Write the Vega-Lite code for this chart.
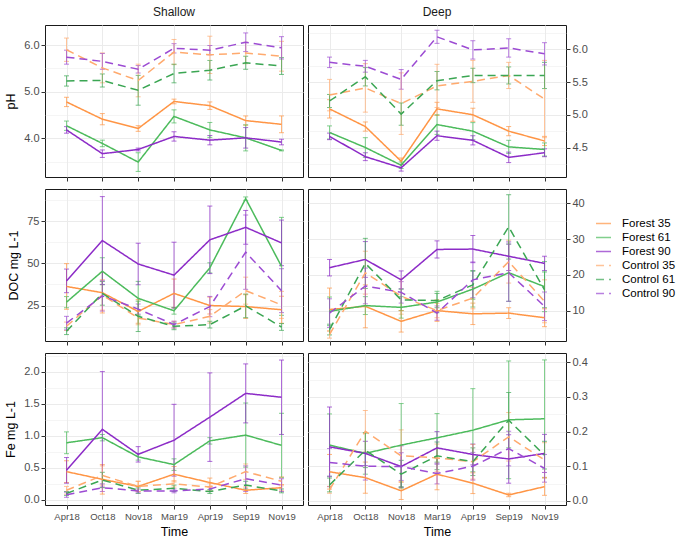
{
"$schema":"https://vega.github.io/schema/vega-lite/v6.json",
"padding":{"left":4,"top":5,"right":0,"bottom":0},
"background":"white",
"datasets":{
"pHS":[
{"s":"Forest 35","t":"Apr18","m":4.78,"lo":4.68,"hi":4.88},{"s":"Forest 35","t":"Oct18","m":4.41,"lo":4.29,"hi":4.53},{"s":"Forest 35","t":"Nov18","m":4.21,"lo":4.15,"hi":4.27},{"s":"Forest 35","t":"Mar19","m":4.79,"lo":4.74,"hi":4.84},{"s":"Forest 35","t":"Apr19","m":4.70,"lo":4.62,"hi":4.78},{"s":"Forest 35","t":"Sep19","m":4.38,"lo":4.28,"hi":4.48},{"s":"Forest 35","t":"Nov19","m":4.30,"lo":4.12,"hi":4.48},
{"s":"Forest 61","t":"Apr18","m":4.27,"lo":4.17,"hi":4.37},{"s":"Forest 61","t":"Oct18","m":3.89,"lo":3.82,"hi":3.96},{"s":"Forest 61","t":"Nov18","m":3.49,"lo":3.29,"hi":3.69},{"s":"Forest 61","t":"Mar19","m":4.47,"lo":4.33,"hi":4.61},{"s":"Forest 61","t":"Apr19","m":4.18,"lo":4.02,"hi":4.34},{"s":"Forest 61","t":"Sep19","m":4.01,"lo":3.73,"hi":4.29},{"s":"Forest 61","t":"Nov19","m":3.74,"lo":3.73,"hi":3.75},
{"s":"Forest 90","t":"Apr18","m":4.18,"lo":4.11,"hi":4.25},{"s":"Forest 90","t":"Oct18","m":3.67,"lo":3.59,"hi":3.75},{"s":"Forest 90","t":"Nov18","m":3.76,"lo":3.73,"hi":3.79},{"s":"Forest 90","t":"Mar19","m":4.04,"lo":3.94,"hi":4.14},{"s":"Forest 90","t":"Apr19","m":3.96,"lo":3.86,"hi":4.06},{"s":"Forest 90","t":"Sep19","m":4.01,"lo":3.79,"hi":4.23},{"s":"Forest 90","t":"Nov19","m":3.92,"lo":3.86,"hi":3.98},
{"s":"Control 35","t":"Apr18","m":5.90,"lo":5.65,"hi":6.15},{"s":"Control 35","t":"Oct18","m":5.51,"lo":5.19,"hi":5.83},{"s":"Control 35","t":"Nov18","m":5.24,"lo":4.89,"hi":5.59},{"s":"Control 35","t":"Mar19","m":5.85,"lo":5.58,"hi":6.12},{"s":"Control 35","t":"Apr19","m":5.79,"lo":5.39,"hi":6.19},{"s":"Control 35","t":"Sep19","m":5.83,"lo":5.60,"hi":6.06},{"s":"Control 35","t":"Nov19","m":5.76,"lo":5.44,"hi":6.08},
{"s":"Control 61","t":"Apr18","m":5.23,"lo":5.12,"hi":5.34},{"s":"Control 61","t":"Oct18","m":5.24,"lo":5.10,"hi":5.38},{"s":"Control 61","t":"Nov18","m":5.03,"lo":4.71,"hi":5.35},{"s":"Control 61","t":"Mar19","m":5.39,"lo":5.19,"hi":5.59},{"s":"Control 61","t":"Apr19","m":5.46,"lo":5.25,"hi":5.67},{"s":"Control 61","t":"Sep19","m":5.62,"lo":5.48,"hi":5.76},{"s":"Control 61","t":"Nov19","m":5.55,"lo":5.37,"hi":5.73},
{"s":"Control 90","t":"Apr18","m":5.74,"lo":5.59,"hi":5.89},{"s":"Control 90","t":"Oct18","m":5.65,"lo":5.48,"hi":5.82},{"s":"Control 90","t":"Nov18","m":5.48,"lo":5.40,"hi":5.56},{"s":"Control 90","t":"Mar19","m":5.93,"lo":5.83,"hi":6.03},{"s":"Control 90","t":"Apr19","m":5.89,"lo":5.79,"hi":5.99},{"s":"Control 90","t":"Sep19","m":6.06,"lo":5.86,"hi":6.26},{"s":"Control 90","t":"Nov19","m":5.94,"lo":5.70,"hi":6.18}
],
"pHD":[
{"s":"Forest 35","t":"Apr18","m":5.09,"lo":4.95,"hi":5.23},{"s":"Forest 35","t":"Oct18","m":4.82,"lo":4.75,"hi":4.89},{"s":"Forest 35","t":"Nov18","m":4.29,"lo":4.24,"hi":4.34},{"s":"Forest 35","t":"Mar19","m":5.09,"lo":4.99,"hi":5.19},{"s":"Forest 35","t":"Apr19","m":5.00,"lo":4.90,"hi":5.10},{"s":"Forest 35","t":"Sep19","m":4.75,"lo":4.68,"hi":4.82},{"s":"Forest 35","t":"Nov19","m":4.60,"lo":4.53,"hi":4.67},
{"s":"Forest 61","t":"Apr18","m":4.73,"lo":4.63,"hi":4.83},{"s":"Forest 61","t":"Oct18","m":4.50,"lo":4.35,"hi":4.65},{"s":"Forest 61","t":"Nov18","m":4.23,"lo":4.18,"hi":4.28},{"s":"Forest 61","t":"Mar19","m":4.85,"lo":4.70,"hi":5.00},{"s":"Forest 61","t":"Apr19","m":4.75,"lo":4.62,"hi":4.88},{"s":"Forest 61","t":"Sep19","m":4.51,"lo":4.41,"hi":4.61},{"s":"Forest 61","t":"Nov19","m":4.47,"lo":4.37,"hi":4.57},
{"s":"Forest 90","t":"Apr18","m":4.67,"lo":4.62,"hi":4.72},{"s":"Forest 90","t":"Oct18","m":4.36,"lo":4.30,"hi":4.42},{"s":"Forest 90","t":"Nov18","m":4.19,"lo":4.14,"hi":4.24},{"s":"Forest 90","t":"Mar19","m":4.68,"lo":4.61,"hi":4.75},{"s":"Forest 90","t":"Apr19","m":4.61,"lo":4.54,"hi":4.68},{"s":"Forest 90","t":"Sep19","m":4.35,"lo":4.27,"hi":4.43},{"s":"Forest 90","t":"Nov19","m":4.42,"lo":4.36,"hi":4.48},
{"s":"Control 35","t":"Apr18","m":5.30,"lo":5.06,"hi":5.54},{"s":"Control 35","t":"Oct18","m":5.41,"lo":5.04,"hi":5.78},{"s":"Control 35","t":"Nov18","m":5.17,"lo":4.70,"hi":5.64},{"s":"Control 35","t":"Mar19","m":5.44,"lo":5.11,"hi":5.77},{"s":"Control 35","t":"Apr19","m":5.51,"lo":5.19,"hi":5.83},{"s":"Control 35","t":"Sep19","m":5.60,"lo":5.40,"hi":5.80},{"s":"Control 35","t":"Nov19","m":5.24,"lo":4.65,"hi":5.83},
{"s":"Control 61","t":"Apr18","m":5.21,"lo":5.11,"hi":5.31},{"s":"Control 61","t":"Oct18","m":5.58,"lo":5.44,"hi":5.72},{"s":"Control 61","t":"Nov18","m":5.01,"lo":4.84,"hi":5.18},{"s":"Control 61","t":"Mar19","m":5.52,"lo":5.38,"hi":5.66},{"s":"Control 61","t":"Apr19","m":5.60,"lo":5.49,"hi":5.71},{"s":"Control 61","t":"Sep19","m":5.60,"lo":5.47,"hi":5.73},{"s":"Control 61","t":"Nov19","m":5.60,"lo":5.40,"hi":5.80},
{"s":"Control 90","t":"Apr18","m":5.80,"lo":5.72,"hi":5.88},{"s":"Control 90","t":"Oct18","m":5.74,"lo":5.65,"hi":5.83},{"s":"Control 90","t":"Nov18","m":5.54,"lo":5.39,"hi":5.69},{"s":"Control 90","t":"Mar19","m":6.19,"lo":6.09,"hi":6.29},{"s":"Control 90","t":"Apr19","m":5.99,"lo":5.85,"hi":6.13},{"s":"Control 90","t":"Sep19","m":6.02,"lo":5.88,"hi":6.16},{"s":"Control 90","t":"Nov19","m":5.93,"lo":5.76,"hi":6.10}
],
"DOCS":[
{"s":"Forest 35","t":"Apr18","m":36.3,"lo":22.8,"hi":49.8},{"s":"Forest 35","t":"Oct18","m":32.6,"lo":20.6,"hi":44.6},{"s":"Forest 35","t":"Nov18","m":21.5,"lo":14.5,"hi":28.5},{"s":"Forest 35","t":"Mar19","m":32.2,"lo":23.7,"hi":40.7},{"s":"Forest 35","t":"Apr19","m":25.0,"lo":20.0,"hi":30.0},{"s":"Forest 35","t":"Sep19","m":24.4,"lo":17.4,"hi":31.4},{"s":"Forest 35","t":"Nov19","m":22.5,"lo":14.5,"hi":30.5},
{"s":"Forest 61","t":"Apr18","m":27.0,"lo":23.7,"hi":30.3},{"s":"Forest 61","t":"Oct18","m":45.3,"lo":37.3,"hi":53.3},{"s":"Forest 61","t":"Nov18","m":29.3,"lo":19.3,"hi":39.3},{"s":"Forest 61","t":"Mar19","m":21.9,"lo":19.9,"hi":23.9},{"s":"Forest 61","t":"Apr19","m":47.3,"lo":44.3,"hi":50.3},{"s":"Forest 61","t":"Sep19","m":88.3,"lo":87.3,"hi":89.3},{"s":"Forest 61","t":"Nov19","m":48.2,"lo":19.2,"hi":77.2},
{"s":"Forest 90","t":"Apr18","m":39.6,"lo":32.6,"hi":46.6},{"s":"Forest 90","t":"Oct18","m":63.5,"lo":37.5,"hi":89.5},{"s":"Forest 90","t":"Nov18","m":49.6,"lo":37.3,"hi":61.9},{"s":"Forest 90","t":"Mar19","m":43.0,"lo":23.5,"hi":62.5},{"s":"Forest 90","t":"Apr19","m":63.9,"lo":43.9,"hi":83.9},{"s":"Forest 90","t":"Sep19","m":71.3,"lo":61.3,"hi":81.3},{"s":"Forest 90","t":"Nov19","m":62.1,"lo":48.6,"hi":75.6},
{"s":"Control 35","t":"Apr18","m":12.7,"lo":10.2,"hi":15.2},{"s":"Control 35","t":"Oct18","m":31.3,"lo":22.3,"hi":40.3},{"s":"Control 35","t":"Nov18","m":17.6,"lo":13.6,"hi":21.6},{"s":"Control 35","t":"Mar19","m":13.7,"lo":11.7,"hi":15.7},{"s":"Control 35","t":"Apr19","m":18.6,"lo":14.6,"hi":22.6},{"s":"Control 35","t":"Sep19","m":33.8,"lo":25.8,"hi":41.8},{"s":"Control 35","t":"Nov19","m":25.4,"lo":17.4,"hi":33.4},
{"s":"Control 61","t":"Apr18","m":9.8,"lo":7.8,"hi":11.8},{"s":"Control 61","t":"Oct18","m":32.2,"lo":25.2,"hi":39.2},{"s":"Control 61","t":"Nov18","m":18.6,"lo":9.6,"hi":27.6},{"s":"Control 61","t":"Mar19","m":12.7,"lo":10.7,"hi":14.7},{"s":"Control 61","t":"Apr19","m":13.7,"lo":11.7,"hi":15.7},{"s":"Control 61","t":"Sep19","m":24.8,"lo":17.8,"hi":31.8},{"s":"Control 61","t":"Nov19","m":12.3,"lo":10.3,"hi":14.3},
{"s":"Control 90","t":"Apr18","m":14.6,"lo":10.6,"hi":18.6},{"s":"Control 90","t":"Oct18","m":30.7,"lo":21.7,"hi":39.7},{"s":"Control 90","t":"Nov18","m":22.9,"lo":19.9,"hi":25.9},{"s":"Control 90","t":"Mar19","m":13.7,"lo":11.7,"hi":15.7},{"s":"Control 90","t":"Apr19","m":24.4,"lo":18.4,"hi":30.4},{"s":"Control 90","t":"Sep19","m":56.6,"lo":34.6,"hi":78.6},{"s":"Control 90","t":"Nov19","m":33.8,"lo":20.8,"hi":46.8}
],
"DOCD":[
{"s":"Forest 35","t":"Apr18","m":10.3,"lo":4.3,"hi":16.3},{"s":"Forest 35","t":"Oct18","m":11.2,"lo":5.2,"hi":17.2},{"s":"Forest 35","t":"Nov18","m":7.0,"lo":4.0,"hi":10.0},{"s":"Forest 35","t":"Mar19","m":10.0,"lo":7.0,"hi":13.0},{"s":"Forest 35","t":"Apr19","m":9.1,"lo":6.1,"hi":12.1},{"s":"Forest 35","t":"Sep19","m":9.3,"lo":7.8,"hi":10.8},{"s":"Forest 35","t":"Nov19","m":8.0,"lo":5.5,"hi":10.5},
{"s":"Forest 61","t":"Apr18","m":9.8,"lo":5.8,"hi":13.8},{"s":"Forest 61","t":"Oct18","m":11.4,"lo":8.9,"hi":13.9},{"s":"Forest 61","t":"Nov18","m":10.9,"lo":7.9,"hi":13.9},{"s":"Forest 61","t":"Mar19","m":12.4,"lo":9.4,"hi":15.4},{"s":"Forest 61","t":"Apr19","m":16.0,"lo":11.0,"hi":21.0},{"s":"Forest 61","t":"Sep19","m":20.6,"lo":12.6,"hi":28.6},{"s":"Forest 61","t":"Nov19","m":16.7,"lo":9.7,"hi":23.7},
{"s":"Forest 90","t":"Apr18","m":22.0,"lo":19.7,"hi":24.3},{"s":"Forest 90","t":"Oct18","m":24.3,"lo":19.3,"hi":29.3},{"s":"Forest 90","t":"Nov18","m":18.6,"lo":16.1,"hi":21.1},{"s":"Forest 90","t":"Mar19","m":27.1,"lo":24.7,"hi":29.5},{"s":"Forest 90","t":"Apr19","m":27.2,"lo":23.4,"hi":31.0},{"s":"Forest 90","t":"Sep19","m":25.2,"lo":21.2,"hi":29.2},{"s":"Forest 90","t":"Nov19","m":23.2,"lo":21.2,"hi":25.2},
{"s":"Control 35","t":"Apr18","m":3.3,"lo":2.3,"hi":4.3},{"s":"Control 35","t":"Oct18","m":20.6,"lo":14.6,"hi":26.6},{"s":"Control 35","t":"Nov18","m":14.0,"lo":9.0,"hi":19.0},{"s":"Control 35","t":"Mar19","m":10.0,"lo":8.0,"hi":12.0},{"s":"Control 35","t":"Apr19","m":13.5,"lo":10.5,"hi":16.5},{"s":"Control 35","t":"Sep19","m":23.7,"lo":17.7,"hi":29.7},{"s":"Control 35","t":"Nov19","m":12.6,"lo":6.6,"hi":18.6},
{"s":"Control 61","t":"Apr18","m":4.7,"lo":3.2,"hi":6.2},{"s":"Control 61","t":"Oct18","m":23.2,"lo":16.2,"hi":30.2},{"s":"Control 61","t":"Nov18","m":13.0,"lo":10.0,"hi":16.0},{"s":"Control 61","t":"Mar19","m":12.8,"lo":10.8,"hi":14.8},{"s":"Control 61","t":"Apr19","m":17.2,"lo":13.2,"hi":21.2},{"s":"Control 61","t":"Sep19","m":33.4,"lo":24.4,"hi":42.4},{"s":"Control 61","t":"Nov19","m":15.8,"lo":10.8,"hi":20.8},
{"s":"Control 90","t":"Apr18","m":9.3,"lo":5.3,"hi":13.3},{"s":"Control 90","t":"Oct18","m":16.9,"lo":11.9,"hi":21.9},{"s":"Control 90","t":"Nov18","m":15.1,"lo":12.1,"hi":18.1},{"s":"Control 90","t":"Mar19","m":9.3,"lo":7.3,"hi":11.3},{"s":"Control 90","t":"Apr19","m":18.6,"lo":13.6,"hi":23.6},{"s":"Control 90","t":"Sep19","m":20.6,"lo":12.6,"hi":28.6},{"s":"Control 90","t":"Nov19","m":11.2,"lo":7.2,"hi":15.2}
],
"FeS":[
{"s":"Forest 35","t":"Apr18","m":0.44,"lo":0.27,"hi":0.61},{"s":"Forest 35","t":"Oct18","m":0.32,"lo":0.09,"hi":0.55},{"s":"Forest 35","t":"Nov18","m":0.21,"lo":0.13,"hi":0.29},{"s":"Forest 35","t":"Mar19","m":0.40,"lo":0.28,"hi":0.52},{"s":"Forest 35","t":"Apr19","m":0.27,"lo":0.20,"hi":0.34},{"s":"Forest 35","t":"Sep19","m":0.15,"lo":0.10,"hi":0.20},{"s":"Forest 35","t":"Nov19","m":0.19,"lo":0.14,"hi":0.24},
{"s":"Forest 61","t":"Apr18","m":0.89,"lo":0.72,"hi":1.06},{"s":"Forest 61","t":"Oct18","m":0.97,"lo":0.92,"hi":1.02},{"s":"Forest 61","t":"Nov18","m":0.67,"lo":0.62,"hi":0.72},{"s":"Forest 61","t":"Mar19","m":0.55,"lo":0.46,"hi":0.64},{"s":"Forest 61","t":"Apr19","m":0.92,"lo":0.87,"hi":0.97},{"s":"Forest 61","t":"Sep19","m":1.01,"lo":0.51,"hi":1.51},{"s":"Forest 61","t":"Nov19","m":0.85,"lo":0.35,"hi":1.35},
{"s":"Forest 90","t":"Apr18","m":0.46,"lo":0.26,"hi":0.66},{"s":"Forest 90","t":"Oct18","m":1.10,"lo":0.20,"hi":2.00},{"s":"Forest 90","t":"Nov18","m":0.71,"lo":0.59,"hi":0.83},{"s":"Forest 90","t":"Mar19","m":0.93,"lo":0.37,"hi":1.49},{"s":"Forest 90","t":"Apr19","m":1.29,"lo":0.60,"hi":1.98},{"s":"Forest 90","t":"Sep19","m":1.66,"lo":1.20,"hi":2.12},{"s":"Forest 90","t":"Nov19","m":1.60,"lo":1.02,"hi":2.18},
{"s":"Control 35","t":"Apr18","m":0.15,"lo":0.09,"hi":0.21},{"s":"Control 35","t":"Oct18","m":0.38,"lo":0.23,"hi":0.53},{"s":"Control 35","t":"Nov18","m":0.21,"lo":0.13,"hi":0.29},{"s":"Control 35","t":"Mar19","m":0.25,"lo":0.20,"hi":0.30},{"s":"Control 35","t":"Apr19","m":0.20,"lo":0.14,"hi":0.26},{"s":"Control 35","t":"Sep19","m":0.44,"lo":0.32,"hi":0.56},{"s":"Control 35","t":"Nov19","m":0.29,"lo":0.22,"hi":0.36},
{"s":"Control 61","t":"Apr18","m":0.10,"lo":0.07,"hi":0.13},{"s":"Control 61","t":"Oct18","m":0.31,"lo":0.19,"hi":0.43},{"s":"Control 61","t":"Nov18","m":0.15,"lo":0.10,"hi":0.20},{"s":"Control 61","t":"Mar19","m":0.18,"lo":0.13,"hi":0.23},{"s":"Control 61","t":"Apr19","m":0.13,"lo":0.10,"hi":0.16},{"s":"Control 61","t":"Sep19","m":0.23,"lo":0.17,"hi":0.29},{"s":"Control 61","t":"Nov19","m":0.14,"lo":0.11,"hi":0.17},
{"s":"Control 90","t":"Apr18","m":0.08,"lo":0.04,"hi":0.12},{"s":"Control 90","t":"Oct18","m":0.19,"lo":0.13,"hi":0.25},{"s":"Control 90","t":"Nov18","m":0.14,"lo":0.11,"hi":0.17},{"s":"Control 90","t":"Mar19","m":0.14,"lo":0.11,"hi":0.17},{"s":"Control 90","t":"Apr19","m":0.17,"lo":0.13,"hi":0.21},{"s":"Control 90","t":"Sep19","m":0.33,"lo":0.13,"hi":0.53},{"s":"Control 90","t":"Nov19","m":0.23,"lo":0.13,"hi":0.33}
],
"FeD":[
{"s":"Forest 35","t":"Apr18","m":0.084,"lo":0.034,"hi":0.134},{"s":"Forest 35","t":"Oct18","m":0.067,"lo":0.022,"hi":0.112},{"s":"Forest 35","t":"Nov18","m":0.029,"lo":0.004,"hi":0.054},{"s":"Forest 35","t":"Mar19","m":0.077,"lo":0.032,"hi":0.122},{"s":"Forest 35","t":"Apr19","m":0.051,"lo":0.021,"hi":0.081},{"s":"Forest 35","t":"Sep19","m":0.017,"lo":0.012,"hi":0.022},{"s":"Forest 35","t":"Nov19","m":0.041,"lo":0.016,"hi":0.066},
{"s":"Forest 61","t":"Apr18","m":0.161,"lo":0.071,"hi":0.251},{"s":"Forest 61","t":"Oct18","m":0.137,"lo":0.077,"hi":0.197},{"s":"Forest 61","t":"Nov18","m":0.161,"lo":0.041,"hi":0.281},{"s":"Forest 61","t":"Mar19","m":0.182,"lo":0.112,"hi":0.252},{"s":"Forest 61","t":"Apr19","m":0.204,"lo":0.084,"hi":0.324},{"s":"Forest 61","t":"Sep19","m":0.234,"lo":0.064,"hi":0.404},{"s":"Forest 61","t":"Nov19","m":0.237,"lo":0.067,"hi":0.407},
{"s":"Forest 90","t":"Apr18","m":0.156,"lo":0.041,"hi":0.271},{"s":"Forest 90","t":"Oct18","m":0.137,"lo":0.102,"hi":0.172},{"s":"Forest 90","t":"Nov18","m":0.099,"lo":0.039,"hi":0.159},{"s":"Forest 90","t":"Mar19","m":0.153,"lo":0.106,"hi":0.200},{"s":"Forest 90","t":"Apr19","m":0.134,"lo":0.104,"hi":0.164},{"s":"Forest 90","t":"Sep19","m":0.121,"lo":0.051,"hi":0.191},{"s":"Forest 90","t":"Nov19","m":0.137,"lo":0.082,"hi":0.192},
{"s":"Control 35","t":"Apr18","m":0.032,"lo":0.022,"hi":0.042},{"s":"Control 35","t":"Oct18","m":0.201,"lo":0.141,"hi":0.261},{"s":"Control 35","t":"Nov18","m":0.130,"lo":0.055,"hi":0.205},{"s":"Control 35","t":"Mar19","m":0.124,"lo":0.084,"hi":0.164},{"s":"Control 35","t":"Apr19","m":0.113,"lo":0.063,"hi":0.163},{"s":"Control 35","t":"Sep19","m":0.185,"lo":0.115,"hi":0.255},{"s":"Control 35","t":"Nov19","m":0.118,"lo":0.068,"hi":0.168},
{"s":"Control 61","t":"Apr18","m":0.046,"lo":0.026,"hi":0.066},{"s":"Control 61","t":"Oct18","m":0.146,"lo":0.096,"hi":0.196},{"s":"Control 61","t":"Nov18","m":0.077,"lo":0.037,"hi":0.117},{"s":"Control 61","t":"Mar19","m":0.130,"lo":0.090,"hi":0.170},{"s":"Control 61","t":"Apr19","m":0.113,"lo":0.073,"hi":0.153},{"s":"Control 61","t":"Sep19","m":0.233,"lo":0.153,"hi":0.313},{"s":"Control 61","t":"Nov19","m":0.132,"lo":0.092,"hi":0.172},
{"s":"Control 90","t":"Apr18","m":0.111,"lo":0.071,"hi":0.151},{"s":"Control 90","t":"Oct18","m":0.100,"lo":0.060,"hi":0.140},{"s":"Control 90","t":"Nov18","m":0.099,"lo":0.059,"hi":0.139},{"s":"Control 90","t":"Mar19","m":0.079,"lo":0.049,"hi":0.109},{"s":"Control 90","t":"Apr19","m":0.100,"lo":0.060,"hi":0.140},{"s":"Control 90","t":"Sep19","m":0.151,"lo":0.101,"hi":0.201},{"s":"Control 90","t":"Nov19","m":0.094,"lo":0.054,"hi":0.134}
]
},
"vconcat":[
{"hconcat":[
{"width":258,"height":152,"title":{"text":"Shallow"},"data":{"name":"pHS"},
"encoding":{"x":{"field":"t","type":"ordinal","sort":["Apr18","Oct18","Nov18","Mar19","Apr19","Sep19","Nov19"],"scale":{"type":"point","padding":0.6},"axis":{"labels":false,"title":null}},
"color":{"field":"s","type":"nominal","scale":{"domain":["Forest 35","Forest 61","Forest 90","Control 35","Control 61","Control 90"],"range":["#FF9545","#4CBB5C","#8C2BC7","#FFAA6E","#3BA653","#9C4BD3"]},"legend":{"title":null,"orient":"none","legendX":550,"legendY":190}}},
"layer":[
{"mark":{"type":"errorbar","ticks":{"size":5,"thickness":1},"thickness":1,"opacity":0.7,"clip":true},"encoding":{"y":{"field":"lo","type":"quantitative","scale":{"domain":[3.17,6.43],"nice":false,"zero":false},"axis":{"title":"pH","orient":"left","values":[3.5,4,4.5,5,5.5,6],"format":".1f","labelExpr":"datum.value % 1 == 0 ? datum.label : ''","labelFontSize":{"condition":{"test":"datum.value % 1 == 0","value":11},"value":0},"tickColor":{"condition":{"test":"datum.value % 1 == 0","value":"#333333"},"value":"transparent"},"gridWidth":{"condition":{"test":"datum.value % 1 == 0","value":1},"value":0.5}}},"y2":{"field":"hi"}}},
{"mark":{"type":"line","strokeWidth":1.5,"clip":true},"encoding":{"y":{"field":"m","type":"quantitative","scale":{"domain":[3.17,6.43],"nice":false,"zero":false},"axis":{"title":"pH","orient":"left","values":[3.5,4,4.5,5,5.5,6],"format":".1f","labelExpr":"datum.value % 1 == 0 ? datum.label : ''","labelFontSize":{"condition":{"test":"datum.value % 1 == 0","value":11},"value":0},"tickColor":{"condition":{"test":"datum.value % 1 == 0","value":"#333333"},"value":"transparent"},"gridWidth":{"condition":{"test":"datum.value % 1 == 0","value":1},"value":0.5}}},
"strokeDash":{"field":"s","type":"nominal","scale":{"domain":["Forest 35","Forest 61","Forest 90","Control 35","Control 61","Control 90"],"range":[[1,0],[1,0],[1,0],[8,5],[8,5],[8,5]]},"legend":{"title":null,"orient":"none","legendX":550,"legendY":190}}}}
]},
{"width":258,"height":152,"title":{"text":"Deep"},"data":{"name":"pHD"},
"encoding":{"x":{"field":"t","type":"ordinal","sort":["Apr18","Oct18","Nov18","Mar19","Apr19","Sep19","Nov19"],"scale":{"type":"point","padding":0.6},"axis":{"labels":false,"title":null}},
"color":{"field":"s","type":"nominal","scale":{"domain":["Forest 35","Forest 61","Forest 90","Control 35","Control 61","Control 90"],"range":["#FF9545","#4CBB5C","#8C2BC7","#FFAA6E","#3BA653","#9C4BD3"]},"legend":{"title":null,"orient":"none","legendX":550,"legendY":190}}},
"layer":[
{"mark":{"type":"errorbar","ticks":{"size":5,"thickness":1},"thickness":1,"opacity":0.7,"clip":true},"encoding":{"y":{"field":"lo","type":"quantitative","scale":{"domain":[4.05,6.37],"nice":false,"zero":false},"axis":{"title":null,"orient":"right","values":[4.25,4.5,4.75,5,5.25,5.5,5.75,6,6.25],"format":".1f","labelExpr":"round(datum.value*4) % 2 == 0 ? datum.label : ''","labelFontSize":{"condition":{"test":"round(datum.value*4) % 2 == 0","value":11},"value":0},"tickColor":{"condition":{"test":"round(datum.value*4) % 2 == 0","value":"#333333"},"value":"transparent"},"gridWidth":{"condition":{"test":"round(datum.value*4) % 2 == 0","value":1},"value":0.5}}},"y2":{"field":"hi"}}},
{"mark":{"type":"line","strokeWidth":1.5,"clip":true},"encoding":{"y":{"field":"m","type":"quantitative","scale":{"domain":[4.05,6.37],"nice":false,"zero":false},"axis":{"title":null,"orient":"right","values":[4.25,4.5,4.75,5,5.25,5.5,5.75,6,6.25],"format":".1f","labelExpr":"round(datum.value*4) % 2 == 0 ? datum.label : ''","labelFontSize":{"condition":{"test":"round(datum.value*4) % 2 == 0","value":11},"value":0},"tickColor":{"condition":{"test":"round(datum.value*4) % 2 == 0","value":"#333333"},"value":"transparent"},"gridWidth":{"condition":{"test":"round(datum.value*4) % 2 == 0","value":1},"value":0.5}}},
"strokeDash":{"field":"s","type":"nominal","scale":{"domain":["Forest 35","Forest 61","Forest 90","Control 35","Control 61","Control 90"],"range":[[1,0],[1,0],[1,0],[8,5],[8,5],[8,5]]},"legend":{"title":null,"orient":"none","legendX":550,"legendY":190}}}}
]}
],"spacing":3,"resolve":{"scale":{"y":"independent","x":"independent"}}},
{"hconcat":[
{"width":258,"height":152,"data":{"name":"DOCS"},
"encoding":{"x":{"field":"t","type":"ordinal","sort":["Apr18","Oct18","Nov18","Mar19","Apr19","Sep19","Nov19"],"scale":{"type":"point","padding":0.6},"axis":{"labels":false,"title":null}},
"color":{"field":"s","type":"nominal","scale":{"domain":["Forest 35","Forest 61","Forest 90","Control 35","Control 61","Control 90"],"range":["#FF9545","#4CBB5C","#8C2BC7","#FFAA6E","#3BA653","#9C4BD3"]},"legend":{"title":null,"orient":"none","legendX":550,"legendY":190}}},
"layer":[
{"mark":{"type":"errorbar","ticks":{"size":5,"thickness":1},"thickness":1,"opacity":0.7,"clip":true},"encoding":{"y":{"field":"lo","type":"quantitative","scale":{"domain":[4,94],"nice":false,"zero":false},"axis":{"title":"DOC mg L-1","orient":"left","values":[12.5,25,37.5,50,62.5,75,87.5],"format":"d","labelExpr":"datum.value % 25 == 0 ? datum.label : ''","labelFontSize":{"condition":{"test":"datum.value % 25 == 0","value":11},"value":0},"tickColor":{"condition":{"test":"datum.value % 25 == 0","value":"#333333"},"value":"transparent"},"gridWidth":{"condition":{"test":"datum.value % 25 == 0","value":1},"value":0.5}}},"y2":{"field":"hi"}}},
{"mark":{"type":"line","strokeWidth":1.5,"clip":true},"encoding":{"y":{"field":"m","type":"quantitative","scale":{"domain":[4,94],"nice":false,"zero":false},"axis":{"title":"DOC mg L-1","orient":"left","values":[12.5,25,37.5,50,62.5,75,87.5],"format":"d","labelExpr":"datum.value % 25 == 0 ? datum.label : ''","labelFontSize":{"condition":{"test":"datum.value % 25 == 0","value":11},"value":0},"tickColor":{"condition":{"test":"datum.value % 25 == 0","value":"#333333"},"value":"transparent"},"gridWidth":{"condition":{"test":"datum.value % 25 == 0","value":1},"value":0.5}}},
"strokeDash":{"field":"s","type":"nominal","scale":{"domain":["Forest 35","Forest 61","Forest 90","Control 35","Control 61","Control 90"],"range":[[1,0],[1,0],[1,0],[8,5],[8,5],[8,5]]},"legend":{"title":null,"orient":"none","legendX":550,"legendY":190}}}}
]},
{"width":258,"height":152,"data":{"name":"DOCD"},
"encoding":{"x":{"field":"t","type":"ordinal","sort":["Apr18","Oct18","Nov18","Mar19","Apr19","Sep19","Nov19"],"scale":{"type":"point","padding":0.6},"axis":{"labels":false,"title":null}},
"color":{"field":"s","type":"nominal","scale":{"domain":["Forest 35","Forest 61","Forest 90","Control 35","Control 61","Control 90"],"range":["#FF9545","#4CBB5C","#8C2BC7","#FFAA6E","#3BA653","#9C4BD3"]},"legend":{"title":null,"orient":"none","legendX":550,"legendY":190}}},
"layer":[
{"mark":{"type":"errorbar","ticks":{"size":5,"thickness":1},"thickness":1,"opacity":0.7,"clip":true},"encoding":{"y":{"field":"lo","type":"quantitative","scale":{"domain":[1.5,44],"nice":false,"zero":false},"axis":{"title":null,"orient":"right","values":[5,10,15,20,25,30,35,40],"format":"d","labelExpr":"datum.value % 10 == 0 ? datum.label : ''","labelFontSize":{"condition":{"test":"datum.value % 10 == 0","value":11},"value":0},"tickColor":{"condition":{"test":"datum.value % 10 == 0","value":"#333333"},"value":"transparent"},"gridWidth":{"condition":{"test":"datum.value % 10 == 0","value":1},"value":0.5}}},"y2":{"field":"hi"}}},
{"mark":{"type":"line","strokeWidth":1.5,"clip":true},"encoding":{"y":{"field":"m","type":"quantitative","scale":{"domain":[1.5,44],"nice":false,"zero":false},"axis":{"title":null,"orient":"right","values":[5,10,15,20,25,30,35,40],"format":"d","labelExpr":"datum.value % 10 == 0 ? datum.label : ''","labelFontSize":{"condition":{"test":"datum.value % 10 == 0","value":11},"value":0},"tickColor":{"condition":{"test":"datum.value % 10 == 0","value":"#333333"},"value":"transparent"},"gridWidth":{"condition":{"test":"datum.value % 10 == 0","value":1},"value":0.5}}},
"strokeDash":{"field":"s","type":"nominal","scale":{"domain":["Forest 35","Forest 61","Forest 90","Control 35","Control 61","Control 90"],"range":[[1,0],[1,0],[1,0],[8,5],[8,5],[8,5]]},"legend":{"title":null,"orient":"none","legendX":550,"legendY":190}}}}
]}
],"spacing":3,"resolve":{"scale":{"y":"independent","x":"independent"}}},
{"hconcat":[
{"width":258,"height":152,"data":{"name":"FeS"},
"encoding":{"x":{"field":"t","type":"ordinal","sort":["Apr18","Oct18","Nov18","Mar19","Apr19","Sep19","Nov19"],"scale":{"type":"point","padding":0.6},"axis":{"title":"Time","labelAngle":0}},
"color":{"field":"s","type":"nominal","scale":{"domain":["Forest 35","Forest 61","Forest 90","Control 35","Control 61","Control 90"],"range":["#FF9545","#4CBB5C","#8C2BC7","#FFAA6E","#3BA653","#9C4BD3"]},"legend":{"title":null,"orient":"none","legendX":550,"legendY":190}}},
"layer":[
{"mark":{"type":"errorbar","ticks":{"size":5,"thickness":1},"thickness":1,"opacity":0.7,"clip":true},"encoding":{"y":{"field":"lo","type":"quantitative","scale":{"domain":[-0.08,2.29],"nice":false,"zero":false},"axis":{"title":"Fe mg L-1","orient":"left","values":[0,0.25,0.5,0.75,1,1.25,1.5,1.75,2,2.25],"format":".1f","labelExpr":"round(datum.value*4) % 2 == 0 ? datum.label : ''","labelFontSize":{"condition":{"test":"round(datum.value*4) % 2 == 0","value":11},"value":0},"tickColor":{"condition":{"test":"round(datum.value*4) % 2 == 0","value":"#333333"},"value":"transparent"},"gridWidth":{"condition":{"test":"round(datum.value*4) % 2 == 0","value":1},"value":0.5}}},"y2":{"field":"hi"}}},
{"mark":{"type":"line","strokeWidth":1.5,"clip":true},"encoding":{"y":{"field":"m","type":"quantitative","scale":{"domain":[-0.08,2.29],"nice":false,"zero":false},"axis":{"title":"Fe mg L-1","orient":"left","values":[0,0.25,0.5,0.75,1,1.25,1.5,1.75,2,2.25],"format":".1f","labelExpr":"round(datum.value*4) % 2 == 0 ? datum.label : ''","labelFontSize":{"condition":{"test":"round(datum.value*4) % 2 == 0","value":11},"value":0},"tickColor":{"condition":{"test":"round(datum.value*4) % 2 == 0","value":"#333333"},"value":"transparent"},"gridWidth":{"condition":{"test":"round(datum.value*4) % 2 == 0","value":1},"value":0.5}}},
"strokeDash":{"field":"s","type":"nominal","scale":{"domain":["Forest 35","Forest 61","Forest 90","Control 35","Control 61","Control 90"],"range":[[1,0],[1,0],[1,0],[8,5],[8,5],[8,5]]},"legend":{"title":null,"orient":"none","legendX":550,"legendY":190}}}}
]},
{"width":258,"height":152,"data":{"name":"FeD"},
"encoding":{"x":{"field":"t","type":"ordinal","sort":["Apr18","Oct18","Nov18","Mar19","Apr19","Sep19","Nov19"],"scale":{"type":"point","padding":0.6},"axis":{"title":"Time","labelAngle":0}},
"color":{"field":"s","type":"nominal","scale":{"domain":["Forest 35","Forest 61","Forest 90","Control 35","Control 61","Control 90"],"range":["#FF9545","#4CBB5C","#8C2BC7","#FFAA6E","#3BA653","#9C4BD3"]},"legend":{"title":null,"orient":"none","legendX":550,"legendY":190}}},
"layer":[
{"mark":{"type":"errorbar","ticks":{"size":5,"thickness":1},"thickness":1,"opacity":0.7,"clip":true},"encoding":{"y":{"field":"lo","type":"quantitative","scale":{"domain":[-0.012,0.427],"nice":false,"zero":false},"axis":{"title":null,"orient":"right","values":[0,0.05,0.1,0.15,0.2,0.25,0.3,0.35,0.4],"format":".1f","labelExpr":"round(datum.value*20) % 2 == 0 ? datum.label : ''","labelFontSize":{"condition":{"test":"round(datum.value*20) % 2 == 0","value":11},"value":0},"tickColor":{"condition":{"test":"round(datum.value*20) % 2 == 0","value":"#333333"},"value":"transparent"},"gridWidth":{"condition":{"test":"round(datum.value*20) % 2 == 0","value":1},"value":0.5}}},"y2":{"field":"hi"}}},
{"mark":{"type":"line","strokeWidth":1.5,"clip":true},"encoding":{"y":{"field":"m","type":"quantitative","scale":{"domain":[-0.012,0.427],"nice":false,"zero":false},"axis":{"title":null,"orient":"right","values":[0,0.05,0.1,0.15,0.2,0.25,0.3,0.35,0.4],"format":".1f","labelExpr":"round(datum.value*20) % 2 == 0 ? datum.label : ''","labelFontSize":{"condition":{"test":"round(datum.value*20) % 2 == 0","value":11},"value":0},"tickColor":{"condition":{"test":"round(datum.value*20) % 2 == 0","value":"#333333"},"value":"transparent"},"gridWidth":{"condition":{"test":"round(datum.value*20) % 2 == 0","value":1},"value":0.5}}},
"strokeDash":{"field":"s","type":"nominal","scale":{"domain":["Forest 35","Forest 61","Forest 90","Control 35","Control 61","Control 90"],"range":[[1,0],[1,0],[1,0],[8,5],[8,5],[8,5]]},"legend":{"title":null,"orient":"none","legendX":550,"legendY":190}}}}
]}
],"spacing":3,"resolve":{"scale":{"y":"independent","x":"independent"}}}
],
"spacing":6,
"config":{
"font":"Liberation Sans",
"view":{"stroke":"#1a1a1a","strokeWidth":1},
"axis":{"domain":false,"grid":true,"gridColor":"#EBEBEB","tickColor":"#333333","tickSize":4,"labelColor":"#4D4D4D","labelFontSize":11,"labelPadding":2,"labelOverlap":false,"labelFlush":false,"titleFontSize":12.5,"titleFontWeight":"normal","titleColor":"#000000"},
"axisX":{"labelFontSize":9.5,"titlePadding":5,"titleFontWeight":"normal"},
"axisY":{"titlePadding":6,"titleFontWeight":"normal"},
"style":{"guide-title":{"fontWeight":"normal"}},
"title":{"fontSize":12,"fontWeight":"normal","offset":6,"color":"#1a1a1a","font":"Liberation Sans"},
"legend":{"symbolType":"stroke","symbolSize":225,"symbolStrokeWidth":1.5,"labelFontSize":11.5,"labelColor":"#000000","rowPadding":0,"padding":0,"labelOffset":10}
}
}
